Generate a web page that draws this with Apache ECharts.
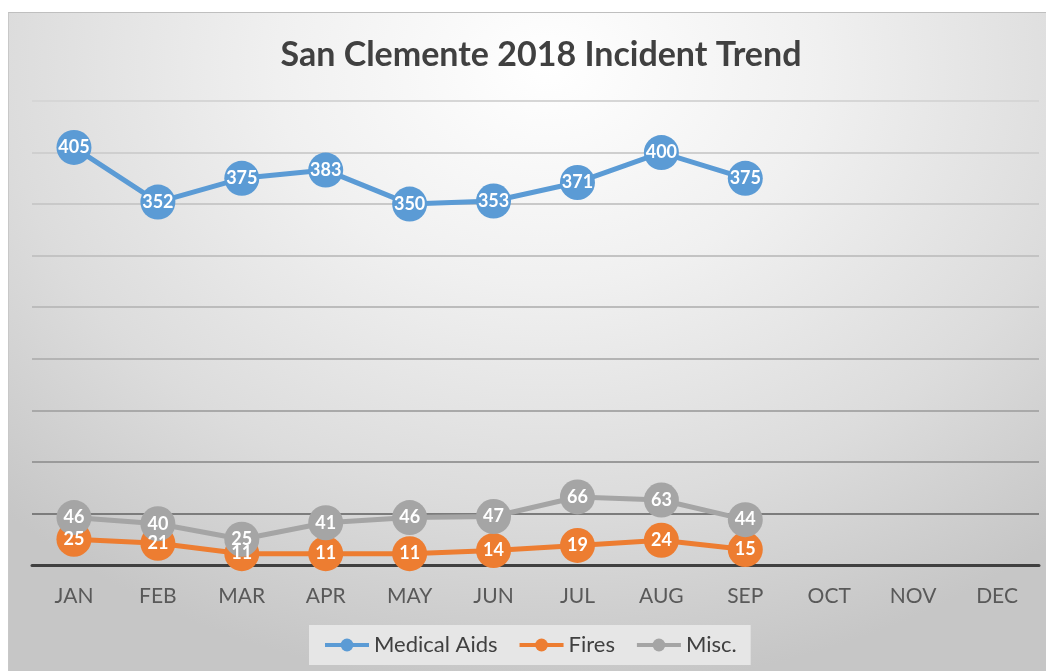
<!DOCTYPE html>
<html>
<head>
<meta charset="utf-8">
<script src="https://cdn.jsdelivr.net/npm/echarts@6/dist/echarts.min.js"></script>
<style>
  html, body { margin: 0; padding: 0; background: #ffffff; }
  .frame {
    position: absolute;
    left: 8px;
    top: 12px;
    width: 1038px;
    height: 659px;
    border-top: 1px solid #bfbfbf;
    border-left: 1px solid #c8c8c8;
    box-sizing: border-box;
    background: radial-gradient(ellipse 75% 95% at 52% 8%, #ffffff 0%, #f0f0f0 35%, #dcdcdc 70%, #c6c6c6 100%);
  }
  #chart { width: 100%; height: 100%; }
</style>
</head>
<body>
<div class="frame"><div id="chart"></div></div>
<script>
const months = ['JAN', 'FEB', 'MAR', 'APR', 'MAY', 'JUN', 'JUL', 'AUG', 'SEP', 'OCT', 'NOV', 'DEC']
const medicalAids = [405, 352, 375, 383, 350, 353, 371, 400, 375]
const fires = [25, 21, 11, 11, 11, 14, 19, 24, 15]
const misc = [46, 40, 25, 41, 46, 47, 66, 63, 44]

// gridlines darken toward the bottom (0, 50, 100 ... 450)
const gridColors = ['#404040', '#7c7c7c', '#9a9a9a', '#a9a9a9', '#b4b4b4', '#bcbcbc', '#c3c3c3', '#c9c9c9', '#cfcfcf', '#d6d6d6']

const chart = echarts.init(document.getElementById('chart'))

function lineSeries(name, data, color) {
  return {
    name,
    type: 'line',
    data,
    symbol: 'circle',
    symbolSize: 35,
    lineStyle: { color, width: 5 },
    itemStyle: { color },
    label: {
      show: true,
      position: 'inside',
      color: '#ffffff',
      fontFamily: 'Lato',
      fontWeight: 'bold',
      fontSize: 18,
    },
    emphasis: { disabled: true },
  }
}

chart.setOption({
  animation: false,
  title: {
    text: 'San Clemente 2018 Incident Trend',
    left: 527,
    top: 20,
    textAlign: 'center',
    textStyle: { fontFamily: 'Lato', fontWeight: 'bold', fontSize: 34, color: '#404040' },
  },
  legend: {
    left: 300,
    top: 612,
    backgroundColor: '#e6e6e6',
    padding: [9, 14],
    itemGap: 20,
    itemWidth: 44,
    itemHeight: 16,
    lineStyle: { width: 4 },
    textStyle: { fontFamily: 'Lato', fontSize: 22, color: '#404040' },
    data: ['Medical Aids', 'Fires', 'Misc.'],
  },
  grid: { left: 23, right: 7, top: 88, bottom: 106 },
  xAxis: {
    type: 'category',
    data: months,
    boundaryGap: true,
    axisLine: { lineStyle: { color: '#404040', width: 3 } },
    axisTick: { show: false },
    axisLabel: { color: '#595959', fontFamily: 'Lato', fontSize: 21, margin: 21 },
  },
  yAxis: {
    type: 'value',
    min: 0,
    max: 450,
    interval: 50,
    axisLabel: { show: false },
    axisLine: { show: false },
    axisTick: { show: false },
    splitLine: { lineStyle: { color: gridColors, width: 2 } },
  },
  series: [
    lineSeries('Medical Aids', medicalAids, '#5b9bd5'),
    lineSeries('Fires', fires, '#ed7d31'),
    lineSeries('Misc.', misc, '#a5a5a5'),
  ],
})
</script>
</body>
</html>
